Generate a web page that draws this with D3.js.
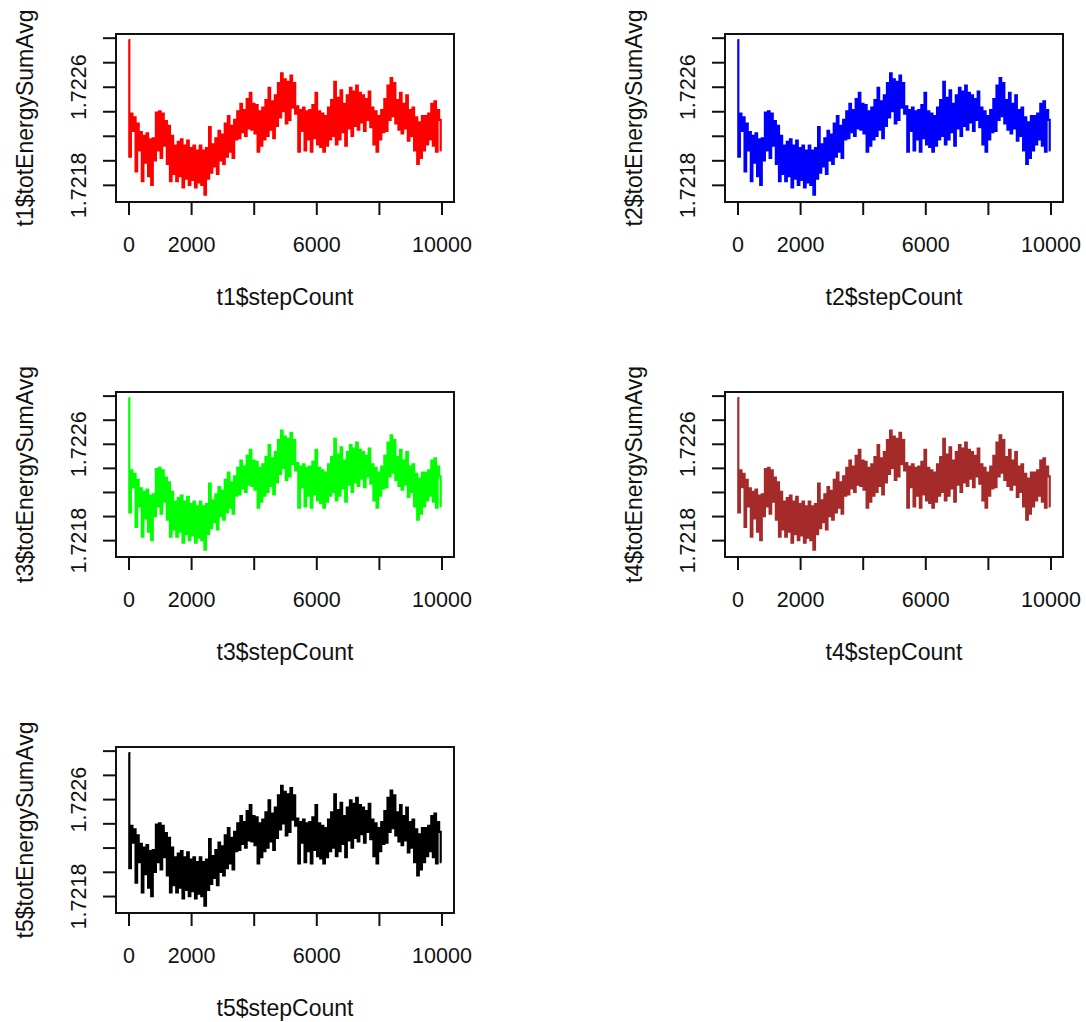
<!DOCTYPE html>
<html>
<head>
<meta charset="utf-8">
<script src="https://cdn.jsdelivr.net/npm/d3@7"></script>
<style>
  html, body { margin: 0; padding: 0; background: #fff; }
  svg { display: block; }
  text { font-family: "Liberation Sans", Arial, sans-serif; fill: #111; }
</style>
</head>
<body>
<svg id="chart" width="1086" height="1022"></svg>
<script>
// ---- data ----
const seriesNames = ["t1", "t2", "t3", "t4", "t5"];
const seriesColors = ["#ff0000", "#0000ff", "#00ff00", "#a52a2a", "#000000"];
const stepInterval = 50; // stepCount sampling used for the traced values
const totEnergySumAvg = [
  1.72298, 1.72203, 1.72238, 1.72224, 1.72235, 1.72191, 1.72230, 1.72208, 1.72223, 1.72183,
  1.72220, 1.72198, 1.72222, 1.72187, 1.72217, 1.72180, 1.72218, 1.72200, 1.72239, 1.72208,
  1.72240, 1.72202, 1.72238, 1.72212, 1.72232, 1.72197, 1.72228, 1.72183, 1.72220, 1.72189,
  1.72212, 1.72183, 1.72215, 1.72187, 1.72217, 1.72178, 1.72212, 1.72185, 1.72216, 1.72180,
  1.72210, 1.72184, 1.72212, 1.72178, 1.72208, 1.72182, 1.72212, 1.72180, 1.72208, 1.72172,
  1.72210, 1.72185, 1.72227, 1.72190, 1.72213, 1.72195, 1.72218, 1.72189, 1.72224, 1.72200,
  1.72221, 1.72197, 1.72230, 1.72203, 1.72236, 1.72207, 1.72228, 1.72202, 1.72233, 1.72217,
  1.72240, 1.72218, 1.72246, 1.72223, 1.72241, 1.72220, 1.72250, 1.72226, 1.72255, 1.72225,
  1.72246, 1.72222, 1.72245, 1.72207, 1.72240, 1.72212, 1.72243, 1.72217, 1.72249, 1.72220,
  1.72259, 1.72225, 1.72248, 1.72218, 1.72253, 1.72228, 1.72263, 1.72235, 1.72271, 1.72240,
  1.72266, 1.72230, 1.72264, 1.72233, 1.72269, 1.72243, 1.72263, 1.72238, 1.72244, 1.72207,
  1.72241, 1.72224, 1.72243, 1.72208, 1.72240, 1.72217, 1.72241, 1.72207, 1.72245, 1.72218,
  1.72255, 1.72213, 1.72240, 1.72211, 1.72238, 1.72207, 1.72236, 1.72212, 1.72243, 1.72217,
  1.72249, 1.72220, 1.72264, 1.72213, 1.72251, 1.72217, 1.72257, 1.72223, 1.72246, 1.72212,
  1.72253, 1.72226, 1.72259, 1.72220, 1.72256, 1.72228, 1.72261, 1.72225, 1.72255, 1.72231,
  1.72253, 1.72224, 1.72250, 1.72233, 1.72256, 1.72227, 1.72243, 1.72213, 1.72240, 1.72207,
  1.72236, 1.72217, 1.72241, 1.72223, 1.72250, 1.72224, 1.72261, 1.72233, 1.72267, 1.72236,
  1.72263, 1.72230, 1.72249, 1.72225, 1.72255, 1.72222, 1.72246, 1.72226, 1.72253, 1.72216,
  1.72241, 1.72220, 1.72243, 1.72208, 1.72235, 1.72197, 1.72231, 1.72202, 1.72236, 1.72208,
  1.72236, 1.72213, 1.72238, 1.72217, 1.72246, 1.72212, 1.72248, 1.72207, 1.72241, 1.72233,
  1.72208
];
const stepCount = totEnergySumAvg.map((_, i) => i * stepInterval);
const xTicks = [0, 2000, 4000, 6000, 8000, 10000];
const xTickLabels = ["0", "2000", "", "6000", "", "10000"];
const yTicks = [1.7218, 1.7220, 1.7222, 1.7224, 1.7226, 1.7228, 1.7230];
const yTickLabels = ["1.7218", "", "", "", "1.7226", "", ""];

// ---- layout ----
const panels = [
  { box: [116, 34, 454, 202] },
  { box: [725, 34, 1063, 202] },
  { box: [116, 392, 454, 557] },
  { box: [725, 392, 1063, 557] },
  { box: [116, 747, 454, 913] }
];
const xDomain = [-400, 10400];
const yDomain = [1.72166, 1.72303];
const tickLen = 13;

const svg = d3.select("#chart");
const data = stepCount.map((s, i) => ({ s, v: totEnergySumAvg[i] }));

panels.forEach((p, k) => {
  const [x0, y0, x1, y1] = p.box;
  const name = seriesNames[k];
  const x = d3.scaleLinear().domain(xDomain).range([x0, x1]);
  const y = d3.scaleLinear().domain(yDomain).range([y1, y0]);
  const g = svg.append("g");

  // data line (dense series drawn as near-vertical strokes)
  g.append("path")
    .datum(data)
    .attr("fill", "none")
    .attr("stroke", seriesColors[k])
    .attr("stroke-width", 2.2)
    .attr("stroke-linejoin", "miter")
    .attr("d", d3.line().curve(d3.curveStep).x(d => x(d.s)).y(d => y(d.v)));

  // box
  g.append("rect")
    .attr("x", x0).attr("y", y0)
    .attr("width", x1 - x0).attr("height", y1 - y0)
    .attr("fill", "none").attr("stroke", "#111").attr("stroke-width", 2);

  // x axis
  const xa = d3.axisBottom(x).tickValues(xTicks).tickSize(tickLen)
    .tickFormat((d, i) => xTickLabels[i]);
  const gx = g.append("g").attr("transform", `translate(0,${y1})`).call(xa);
  gx.select(".domain").attr("d", `M${x(xTicks[0])},0H${x(xTicks[xTicks.length - 1])}`)
    .attr("stroke", "#111").attr("stroke-width", 2);
  gx.selectAll(".tick line").attr("stroke", "#111").attr("stroke-width", 2);
  gx.selectAll(".tick text")
    .attr("y", 50).attr("dy", null)
    .style("font-size", "21.5px").style("font-family", "'Liberation Sans', Arial, sans-serif")
    .attr("fill", "#111");

  // y axis
  const ya = d3.axisLeft(y).tickValues(yTicks).tickSize(tickLen)
    .tickFormat((d, i) => yTickLabels[i]);
  const gy = g.append("g").attr("transform", `translate(${x0},0)`).call(ya);
  gy.select(".domain").attr("d", `M0,${y(yTicks[0])}V${y(yTicks[yTicks.length - 1])}`)
    .attr("stroke", "#111").attr("stroke-width", 2);
  gy.selectAll(".tick line").attr("stroke", "#111").attr("stroke-width", 2);
  gy.selectAll(".tick text")
    .attr("x", null).attr("dy", null)
    .attr("text-anchor", "middle")
    .attr("transform", "translate(-30.5,0) rotate(-90)")
    .style("font-size", "21.5px").style("font-family", "'Liberation Sans', Arial, sans-serif")
    .attr("fill", "#111");

  // axis titles
  g.append("text")
    .attr("x", (x0 + x1) / 2).attr("y", y1 + 103)
    .attr("text-anchor", "middle")
    .style("font-size", "23px")
    .text(`${name}$stepCount`);
  g.append("text")
    .attr("transform", `translate(${x0 - 83},${(y0 + y1) / 2}) rotate(-90)`)
    .attr("text-anchor", "middle")
    .style("font-size", "23px")
    .text(`${name}$totEnergySumAvg`);
});
</script>
</body>
</html>
